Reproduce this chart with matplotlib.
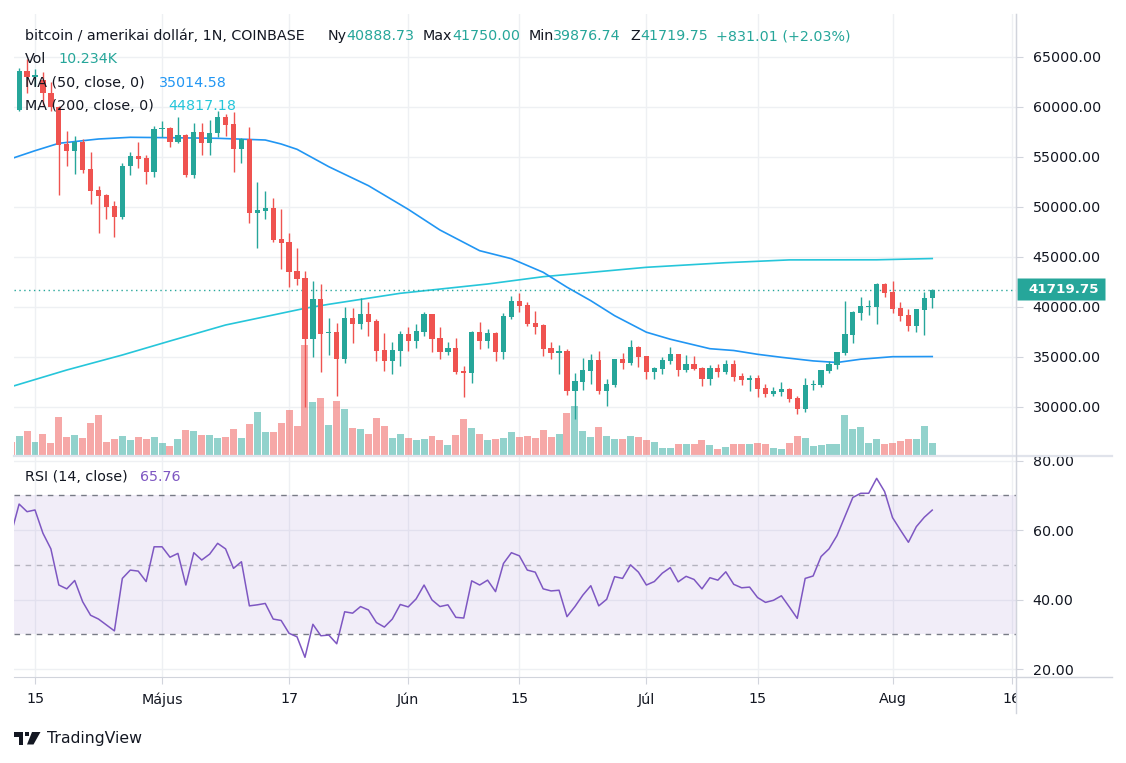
import matplotlib
matplotlib.use('Agg')
import matplotlib.pyplot as plt
import matplotlib.dates as mdates
from matplotlib.lines import Line2D
from matplotlib.patches import Polygon, FancyBboxPatch
from matplotlib.transforms import Bbox, TransformedBbox, blended_transform_factory
import numpy as np
import pandas as pd

# daily candles, 2021-04-12 .. 2021-08-06
dates = pd.date_range('2021-04-12', '2021-08-06', freq='D')

opens = [60000, 59670, 63600, 62970, 62700, 61340, 60000, 56270, 55600, 56500,
         53770, 51670, 51170, 50070, 49000, 54070, 55070, 54900, 53500, 57770,
         57840, 56500, 57170, 53170, 57500, 56400, 57340, 59000, 58300, 55800,
         56770, 49400, 49600, 49900, 46770, 46500, 43600, 42870, 36740, 40740,
         37340, 37470, 34740, 38870, 38300, 39270, 38600, 35670, 34600, 35600,
         37270, 36600, 37500, 39270, 36870, 35500, 35870, 33570, 33400, 37470,
         36600, 37370, 35500, 39000, 40570, 40170, 38370, 38170, 35870, 35400,
         35570, 31600, 32500, 33600, 34670, 31600, 32170, 34770, 34400, 35970,
         35070, 33500, 33800, 34600, 35270, 33700, 34270, 33900, 32800, 33870,
         33500, 34270, 33100, 32700, 32900, 31900, 31300, 31500, 31800, 30900,
         29800, 32200, 32200, 33600, 34200, 35400, 37200, 39400, 39970, 39970,
         42270, 41470, 39870, 39170, 38100, 39700, 40888.73]
highs = [61200, 63850, 64800, 63800, 63500, 62500, 60100, 57600, 57070, 56740,
         55500, 52070, 51270, 50600, 54330, 55500, 56500, 55200, 58070, 58570,
         58000, 58940, 57250, 58400, 58400, 58670, 59600, 59300, 59500, 56900,
         58000, 52500, 51570, 50840, 49770, 47340, 45840, 43600, 42600, 42270,
         38900, 38340, 40000, 39870, 40840, 40470, 38800, 37340, 36470, 37600,
         37940, 38270, 39500, 39300, 37940, 36470, 36870, 34070, 37600, 38470,
         37740, 37450, 39400, 41070, 41340, 40470, 39570, 38250, 36470, 36170,
         35770, 33340, 34870, 35270, 35570, 32800, 34800, 35400, 36670, 36070,
         35100, 34000, 35000, 35970, 35300, 35170, 35070, 34000, 34170, 34270,
         34670, 34670, 33400, 33200, 33200, 32300, 32000, 32500, 31900, 31100,
         32900, 32670, 33700, 34570, 35470, 40570, 39600, 40970, 40670, 42370,
         42370, 42570, 40470, 39770, 39800, 41470, 41750.00]
lows = [59400, 59600, 61340, 62050, 60170, 59600, 51170, 54070, 53270, 53400,
        50270, 47400, 48740, 47000, 48740, 53170, 53840, 52270, 53000, 57000,
        56000, 56400, 53000, 52840, 55170, 55170, 56940, 57070, 53500, 54400,
        48400, 45900, 48800, 46500, 43740, 42000, 42170, 30000, 35000, 33500,
        35170, 31100, 34400, 36400, 37800, 37100, 34600, 33600, 33270, 34100,
        35600, 35900, 37100, 35470, 34800, 35170, 33300, 31000, 32400, 35800,
        35900, 34600, 34740, 38740, 39500, 38100, 37270, 35100, 34770, 33300,
        31200, 28800, 31700, 32300, 31300, 30100, 32000, 33800, 34170, 34000,
        32740, 32740, 33300, 34300, 33100, 33500, 33670, 32100, 32200, 33000,
        33300, 32600, 32200, 31600, 31000, 31000, 31100, 31100, 30500, 29300,
        29500, 31700, 32000, 33400, 33800, 35200, 36400, 38700, 39200, 38300,
        41000, 39400, 38600, 37600, 37500, 37200, 39876.74]
closes = [59800, 63600, 62970, 63170, 61340, 60000, 56170, 55600, 56500, 53670,
          51600, 51100, 50000, 49000, 54070, 55070, 54800, 53500, 57770, 57900,
          56500, 57170, 53170, 57500, 56340, 57400, 59000, 58170, 55800, 56770,
          49400, 49670, 49900, 46670, 46400, 43500, 42770, 36740, 40740, 37300,
          37500, 34740, 38870, 38300, 39270, 38500, 35600, 34600, 35670, 37270,
          36600, 37570, 39270, 36800, 35500, 35870, 33470, 33400, 37470, 36600,
          37370, 35500, 39070, 40570, 40100, 38300, 38000, 35800, 35400, 35570,
          31600, 32570, 33670, 34670, 31600, 32270, 34770, 34400, 35970, 35000,
          33500, 33870, 34670, 35270, 33700, 34270, 33770, 32800, 33870, 33500,
          34270, 33000, 32700, 32900, 31800, 31300, 31600, 31800, 30800, 29800,
          32200, 32300, 33670, 34270, 35470, 37270, 39500, 40070, 40100, 42270,
          41400, 39800, 39100, 38100, 39770, 40888.74, 41719.75]
# volume in thousands of BTC
volumes = [11.1, 16.2, 20.5, 11.1, 17.9, 10.2, 32.4, 15.4, 17.1, 14.5,
           27.3, 34.1, 11.1, 13.6, 16.2, 12.8, 15.4, 13.6, 15.4, 10.2,
           7.7, 13.6, 21.3, 20.5, 17.1, 17.1, 14.5, 15.4, 22.2, 14.5,
           26.4, 36.7, 19.6, 19.6, 27.3, 38.4, 24.7, 93.8, 45.2, 48.6,
           25.6, 46.1, 39.2, 23.0, 22.2, 17.9, 31.6, 24.7, 14.5, 17.9,
           14.5, 12.8, 13.6, 16.2, 12.8, 8.5, 17.1, 30.7, 23.0, 17.9,
           12.8, 13.6, 14.5, 19.6, 15.4, 16.2, 14.5, 21.3, 15.4, 17.9,
           35.8, 41.8, 20.5, 15.4, 23.9, 16.2, 13.6, 13.6, 16.2, 15.4,
           12.8, 11.1, 6.0, 6.0, 9.4, 9.4, 9.4, 12.8, 8.5, 5.1,
           6.8, 9.4, 9.4, 9.4, 10.2, 9.4, 6.0, 5.1, 10.2, 16.2,
           14.5, 7.7, 8.5, 9.4, 9.4, 34.1, 22.2, 23.9, 10.2, 13.6,
           9.4, 10.2, 11.9, 13.6, 13.6, 24.7, 10.234]
rsi = [59.0, 67.5, 65.3, 65.8, 59.1, 54.6, 44.2, 43.1, 45.5, 39.4,
       35.5, 34.4, 32.7, 31.0, 46.1, 48.5, 48.2, 45.2, 55.2, 55.2,
       52.2, 53.3, 44.2, 53.5, 51.4, 53.1, 56.2, 54.6, 49.0, 50.9,
       38.2, 38.5, 38.9, 34.4, 34.0, 30.3, 29.3, 23.4, 32.9, 29.6,
       29.8, 27.3, 36.5, 36.1, 38.0, 37.0, 33.4, 32.1, 34.4, 38.6,
       37.9, 40.2, 44.2, 39.9, 38.0, 38.5, 34.9, 34.7, 45.4, 44.2,
       45.6, 42.3, 50.4, 53.5, 52.6, 48.5, 47.9, 43.1, 42.5, 42.7,
       35.1, 38.0, 41.3, 44.0, 38.2, 40.1, 46.6, 46.1, 50.0, 47.9,
       44.2, 45.2, 47.6, 49.2, 45.1, 46.7, 45.8, 43.1, 46.3, 45.6,
       48.0, 44.4, 43.4, 43.6, 40.6, 39.2, 39.8, 41.1, 37.9, 34.6,
       46.1, 46.8, 52.4, 54.6, 58.4, 63.9, 69.4, 70.6, 70.6, 74.9,
       71.1, 63.6, 60.0, 56.5, 61.0, 63.7, 65.76]

# moving averages
ma50_dates = ['2021-04-12', '2021-04-15', '2021-04-18', '2021-04-23', '2021-04-27',
              '2021-05-02', '2021-05-08', '2021-05-14', '2021-05-16', '2021-05-18',
              '2021-05-22', '2021-05-27', '2021-06-01', '2021-06-05', '2021-06-10',
              '2021-06-14', '2021-06-18', '2021-06-21', '2021-06-24', '2021-06-27',
              '2021-07-01', '2021-07-04', '2021-07-09', '2021-07-12', '2021-07-15',
              '2021-07-18', '2021-07-22', '2021-07-25', '2021-07-28', '2021-08-01',
              '2021-08-06']
ma50_vals = [54800, 55600, 56340, 56770, 56940, 56900, 56840, 56670, 56270, 55740,
             54000, 52100, 49740, 47670, 45600, 44800, 43440, 41950, 40600, 39100,
             37450, 36750, 35800, 35620, 35240, 34940, 34580, 34420, 34750, 35000,
             35014.58]
ma200_dates = ['2021-04-12', '2021-04-19', '2021-04-26', '2021-05-02', '2021-05-09',
               '2021-05-19', '2021-05-22', '2021-05-31', '2021-06-11', '2021-06-18',
               '2021-07-01', '2021-07-11', '2021-07-19', '2021-07-30', '2021-08-06']
ma200_vals = [32000, 33670, 35170, 36570, 38170, 39840, 40240, 41340, 42270, 43000,
              43940, 44400, 44680, 44690, 44817.18]

tick_dates = ['2021-04-15', '2021-05-01', '2021-05-17', '2021-06-01', '2021-06-15',
              '2021-07-01', '2021-07-15', '2021-08-01', '2021-08-16']
tick_labels = ['15', 'Május', '17', 'Jún', '15', 'Júl', '15', 'Aug', '16']
price_ticks = [30000, 35000, 40000, 45000, 50000, 55000, 60000, 65000]
rsi_ticks = [20, 40, 60, 80]

GREEN = '#26a69a'
RED = '#ef5350'
TXT = '#131722'
GRID = '#eef0f3'
AXLINE = '#d1d4dc'

plt.rcParams['font.family'] = ['DejaVu Sans']

W, H = 1126, 763
fig = plt.figure(figsize=(W / 100, H / 100), dpi=100)
fig.patch.set_facecolor('white')


def rect(x0, y0, x1, y1):
    return [x0 / W, 1 - y1 / H, (x1 - x0) / W, (y1 - y0) / H]


x = mdates.date2num(dates)
o = np.array(opens)
h = np.array(highs)
l = np.array(lows)
c = np.array(closes)
v = np.array(volumes)
up = c >= o
cols = np.where(up, GREEN, RED)

x_left = mdates.date2num(pd.Timestamp('2021-04-15')) - 2.645
x_right = mdates.date2num(pd.Timestamp('2021-04-15')) + 123.55

# ---- main price pane (grid + axis) ----
ax = fig.add_axes(rect(14, 14, 1016, 455))
ax.set_xlim(x_left, x_right)
ax.set_ylim(25170, 69270)
ax.set_yticks(price_ticks)
ax.set_yticklabels([f'{p:.2f}' for p in price_ticks])
ax.yaxis.tick_right()
ax.tick_params(axis='y', length=5, color=AXLINE, labelsize=10.3, labelcolor=TXT, pad=7)
ax.set_xticks(mdates.date2num(pd.to_datetime(tick_dates)))
ax.tick_params(axis='x', length=0, labelbottom=False)
ax.grid(True, color=GRID, lw=1)
ax.set_axisbelow(True)
for s in ['top', 'left', 'bottom']:
    ax.spines[s].set_visible(False)
ax.spines['right'].set_color(AXLINE)

# volume overlay
axv = fig.add_axes(rect(14, 14, 1016, 455), sharex=ax)
axv.patch.set_visible(False)
axv.set_ylim(0, 376)
axv.bar(x, v, width=0.88, color=cols, alpha=0.5, linewidth=0)
axv.axis('off')

# candles and moving averages on top
axc = fig.add_axes(rect(14, 14, 1016, 455), sharex=ax, sharey=ax)
axc.patch.set_visible(False)
axc.axis('off')
axc.plot(mdates.date2num(pd.to_datetime(ma200_dates)), ma200_vals, color='#26c6da', lw=1.2)
axc.plot(mdates.date2num(pd.to_datetime(ma50_dates)), ma50_vals, color='#2196f3', lw=1.2)
axc.vlines(x, l, h, colors=cols, lw=1.0, zorder=3)
body_low = np.minimum(o, c)
body_h = np.maximum(np.abs(c - o), 90)
axc.bar(x, body_h, width=0.66, bottom=body_low, color=cols, linewidth=0, zorder=4)
axc.axhline(closes[-1], color=GREEN, lw=1, ls=(0, (1, 2.5)), zorder=2)
axc.set_xlim(x_left, x_right)
axc.set_ylim(25170, 69270)

# ---- RSI pane ----
rax = fig.add_axes(rect(14, 457, 1016, 677), sharex=ax)
rax.set_ylim(17.73, 81.04)
rax.axhspan(30, 70, color='#7e57c2', alpha=0.1, lw=0)
rax.axhline(70, color='#787b86', lw=1, ls=(0, (4, 4)))
rax.axhline(50, color='#787b86', lw=1, ls=(0, (4, 4)), alpha=0.5)
rax.axhline(30, color='#787b86', lw=1, ls=(0, (4, 4)))
rax.plot(x, rsi, color='#7e57c2', lw=1.1)
rax.set_yticks(rsi_ticks)
rax.set_yticklabels([f'{t:.2f}' for t in rsi_ticks])
rax.yaxis.tick_right()
rax.tick_params(axis='y', length=5, color=AXLINE, labelsize=10.3, labelcolor=TXT, pad=7)
rax.set_xticks(mdates.date2num(pd.to_datetime(tick_dates)))
rax.set_xticklabels(tick_labels)
rax.tick_params(axis='x', length=5, color=AXLINE, labelsize=10.3, labelcolor=TXT, pad=6)
rax.grid(True, color=GRID, lw=1)
rax.set_axisbelow(True)
for s in ['top', 'left']:
    rax.spines[s].set_visible(False)
rax.spines['right'].set_color(AXLINE)
rax.spines['bottom'].set_color(AXLINE)
rax.set_xlim(x_left, x_right)

# clip the last date label at the price scale
clip = TransformedBbox(Bbox.from_extents(0, 0, 1016 / W, 1), fig.transFigure)
last = rax.get_xticklabels()[-1]
last.set_clip_on(True)
last.set_clip_box(clip)

# pane separator and scale lines
fig.add_artist(Line2D([14 / W, 1112 / W], [1 - 456 / H] * 2, color='#e0e3eb', lw=1.6))
fig.add_artist(Line2D([1016 / W, 1112 / W], [1 - 677 / H] * 2, color=AXLINE, lw=1))
fig.add_artist(Line2D([1016 / W] * 2, [1 - 14 / H, 1 - 713 / H], color=AXLINE, lw=1))

# last price label on the scale
tr = blended_transform_factory(ax.transAxes, ax.transData)
ax.add_patch(FancyBboxPatch((1.0015, closes[-1] - 1100), (1105 - 1017) / 1002, 2200,
                            boxstyle='round,pad=0,rounding_size=0.002', fc=GREEN, ec='none',
                            transform=tr, clip_on=False, zorder=5))
ax.annotate(f'{closes[-1]:.2f}', xy=(1, closes[-1]), xycoords=('axes fraction', 'data'),
            xytext=(12, 0), textcoords='offset pixels', va='center', ha='left',
            color='white', fontsize=9.6, fontweight='bold', zorder=6)


# ---- legend texts ----
def ftext(px, py, s, color=TXT, size=10.3):
    fig.text(px / W, 1 - py / H, s, color=color, fontsize=size, va='center', ha='left')


change = closes[-1] - closes[-2]
pct = change / closes[-2] * 100
ftext(25, 36, 'bitcoin / amerikai dollár, 1N, COINBASE')
ftext(328, 36, 'Ny')
ftext(346, 36, f'{opens[-1]:.2f}', GREEN)
ftext(423, 36, 'Max')
ftext(452, 36, f'{highs[-1]:.2f}', GREEN)
ftext(529, 36, 'Min')
ftext(553, 36, f'{lows[-1]:.2f}', GREEN)
ftext(630, 36, 'Z')
ftext(640, 36, f'{closes[-1]:.2f}', GREEN)
ftext(716, 36, f'+{change:.2f} (+{pct:.2f}%)', GREEN)
ftext(25, 59, 'Vol')
ftext(58, 59, f'{volumes[-1]:.3f}K', GREEN)
ftext(25, 83, 'MA (50, close, 0)')
ftext(159, 83, f'{ma50_vals[-1]:.2f}', '#2196f3')
ftext(25, 106, 'MA (200, close, 0)')
ftext(168, 106, f'{ma200_vals[-1]:.2f}', '#26c6da')
ftext(25, 477, 'RSI (14, close)')
ftext(140, 477, f'{rsi[-1]:.2f}', '#7e57c2')


# TradingView mark
def P(px, py):
    return (px / W, 1 - py / H)


logo = '#131722'
fig.add_artist(Polygon([P(14, 732), P(23, 732), P(23, 744.5), P(18.5, 744.5),
                        P(18.5, 736.5), P(14, 736.5)], closed=True, fc=logo, ec='none',
                       transform=fig.transFigure))
fig.add_artist(Polygon([P(25, 732), P(29, 732), P(29, 736), P(25, 736)], closed=True,
                       fc=logo, ec='none', transform=fig.transFigure))
fig.add_artist(Polygon([P(32, 732), P(40.5, 732), P(33.5, 744.5), P(27, 744.5)],
                       closed=True, fc=logo, ec='none', transform=fig.transFigure))
ftext(47, 739, 'TradingView', TXT, 11.3)

fig.savefig('out.png', dpi=100, facecolor='white')
